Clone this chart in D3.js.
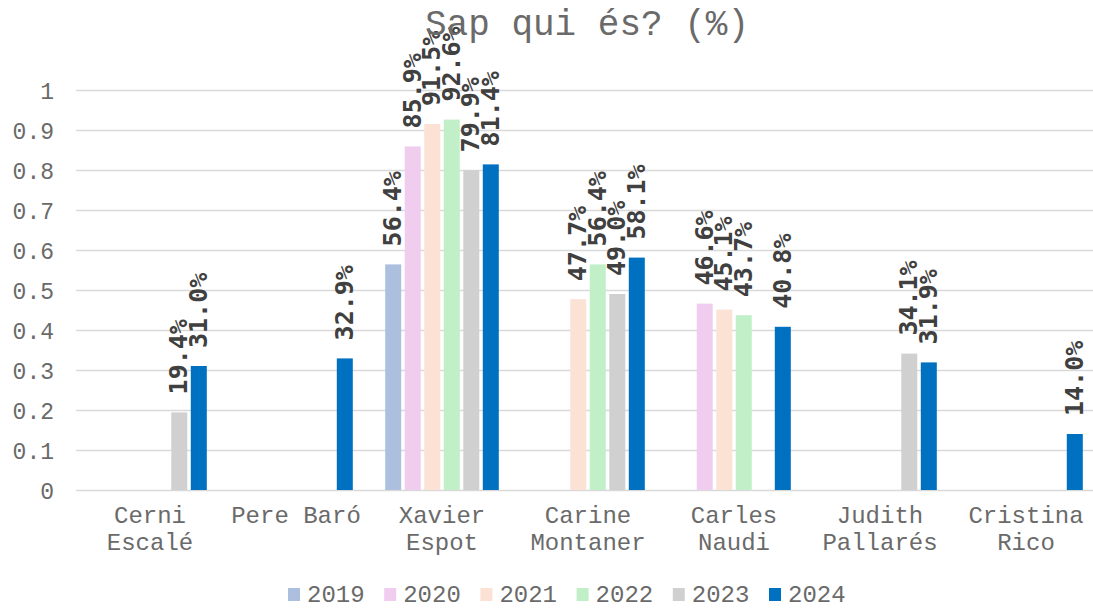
<!DOCTYPE html>
<html>
<head>
<meta charset="utf-8">
<script src="https://cdn.jsdelivr.net/npm/d3@7"></script>
<style>
  body { margin: 0; background: #fff; }
  svg { display: block; }
</style>
</head>
<body>
<div id="chart"></div>
<script>
(function(){

  //chart data
  var candidates = ["Cerni Escalé", "Pere Baró", "Xavier Espot", "Carine Montaner", "Carles Naudi", "Judith Pallarés", "Cristina Rico"];
  var candidateLines = [["Cerni", "Escalé"], ["Pere Baró"], ["Xavier", "Espot"], ["Carine", "Montaner"], ["Carles", "Naudi"], ["Judith", "Pallarés"], ["Cristina", "Rico"]];
  var years = ["2019", "2020", "2021", "2022", "2023", "2024"];
  var yearColors = ["#adbfdf", "#f0cdee", "#fbe2d5", "#c1f0c8", "#d0d0d0", "#0070c0"];
  //null = no value for that year
  var v2019 = [null, null, 0.564, null, null, null, null];
  var v2020 = [null, null, 0.859, null, 0.466, null, null];
  var v2021 = [null, null, 0.915, 0.477, 0.451, null, null];
  var v2022 = [null, null, 0.926, 0.564, 0.437, null, null];
  var v2023 = [0.194, null, 0.799, 0.490, null, 0.341, null];
  var v2024 = [0.310, 0.329, 0.814, 0.581, 0.408, 0.319, 0.140];
  var yTicks = [0, 0.1, 0.2, 0.3, 0.4, 0.5, 0.6, 0.7, 0.8, 0.9, 1];
  var title = "Sap qui és? (%)";

  var seriesValues = [v2019, v2020, v2021, v2022, v2023, v2024];

  var width = 1093, height = 608;
  var plotLeft = 77, plotRight = 1099, plotTop = 90, plotBottom = 490;
  var mono = "'Courier New', Courier, 'Liberation Mono', monospace";
  var textColor = "#6a6a6a";

  var svg = d3.select("#chart")
    .append("svg")
    .attr("width", width)
    .attr("height", height);

  var x0 = d3.scaleBand()
    .domain(candidates)
    .range([plotLeft, plotRight]);

  var x1 = d3.scaleBand()
    .domain(years)
    .range([0, x0.bandwidth()])
    .paddingInner(0.18)
    .paddingOuter(0.83);

  var y = d3.scaleLinear()
    .domain([0, 1])
    .range([plotBottom, plotTop]);

  var color = d3.scaleOrdinal().domain(years).range(yearColors);

  //gridlines
  svg.append("g")
    .selectAll("line")
    .data(yTicks)
    .enter()
    .append("line")
    .attr("x1", plotLeft - 1)
    .attr("x2", width)
    .attr("y1", function(d){ return Math.round(y(d)) + 0.5; })
    .attr("y2", function(d){ return Math.round(y(d)) + 0.5; })
    .attr("stroke", "#d9d9d9")
    .attr("stroke-width", 1.4);

  //y axis labels
  var yAxis = d3.axisLeft(y)
    .tickValues(yTicks)
    .tickSize(0)
    .tickPadding(0)
    .tickFormat(function(d){ return String(d); });

  var axis = svg.append("g")
    .attr("transform", "translate(54,0)")
    .call(yAxis);
  axis.select(".domain").remove();
  axis.selectAll("text")
    .attr("font-family", mono)
    .attr("font-size", 23)
    .attr("dy", "0.36em")
    .attr("fill", textColor);

  //flatten data
  var barData = [];
  candidates.forEach(function(c, i){
    years.forEach(function(yr, j){
      var val = seriesValues[j][i];
      if (val !== null) barData.push({cand: c, year: yr, value: val});
    });
  });

  //bars
  svg.append("g")
    .selectAll("rect")
    .data(barData)
    .enter()
    .append("rect")
    .attr("x", function(d){ return x0(d.cand) + x1(d.year); })
    .attr("width", x1.bandwidth())
    .attr("y", function(d){ return y(d.value); })
    .attr("height", function(d){ return y(0) - y(d.value); })
    .attr("fill", function(d){ return color(d.year); });

  //data labels
  svg.append("g")
    .selectAll("text")
    .data(barData)
    .enter()
    .append("text")
    .attr("transform", function(d){
      var cx = x0(d.cand) + x1(d.year) + x1.bandwidth() / 2 + 8;
      return "translate(" + cx + "," + (y(d.value) - 18) + ") rotate(-90)";
    })
    .attr("font-family", "'DejaVu Sans Mono', monospace")
    .attr("font-weight", "bold")
    .attr("font-size", 25)
    .attr("fill", "#404040")
    .text(function(d){ return (d.value * 100).toFixed(1) + "%"; });

  //category labels
  var cats = svg.append("g")
    .selectAll("text")
    .data(candidates)
    .enter()
    .append("text")
    .attr("x", function(d){ return x0(d) + x0.bandwidth() / 2; })
    .attr("y", 523)
    .attr("text-anchor", "middle")
    .attr("font-family", mono)
    .attr("font-size", 24)
    .attr("fill", textColor);
  cats.selectAll("tspan")
    .data(function(d, i){ return candidateLines[i]; })
    .enter()
    .append("tspan")
    .attr("x", function(){ return this.parentNode.getAttribute("x"); })
    .attr("dy", function(d, i){ return i === 0 ? 0 : 27; })
    .text(function(d){ return d; });

  //title
  svg.append("text")
    .attr("x", 587)
    .attr("y", 35)
    .attr("text-anchor", "middle")
    .attr("font-family", mono)
    .attr("font-size", 36)
    .attr("fill", textColor)
    .text(title);

  //legend
  var itemW = 96.2;
  var legendX = 288;
  var legend = svg.append("g")
    .selectAll("g")
    .data(years)
    .enter()
    .append("g")
    .attr("transform", function(d, i){ return "translate(" + (legendX + i * itemW) + ",588)"; });
  legend.append("rect")
    .attr("width", 12)
    .attr("height", 13)
    .attr("fill", function(d){ return color(d); });
  legend.append("text")
    .attr("x", 19)
    .attr("y", 14)
    .attr("font-family", mono)
    .attr("font-size", 24)
    .attr("fill", textColor)
    .text(function(d){ return d; });

})();
</script>
</body>
</html>
